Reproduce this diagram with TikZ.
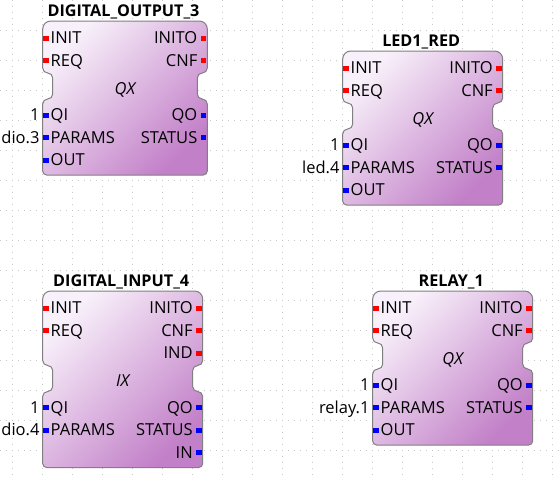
\documentclass[tikz,border=0pt]{standalone}
\usepackage{fontspec}
\setmainfont{Open Sans}
\usetikzlibrary{calc}

\definecolor{fbtop}{RGB}{248,240,250}
\definecolor{fbbot}{RGB}{194,128,200}
\definecolor{fbline}{RGB}{128,128,128}
\definecolor{griddot}{RGB}{200,200,200}

\tikzset{
  fbbody/.style={draw=fbline,line width=1pt,top color=fbtop,bottom color=fbbot,shading angle=45},
  lbl/.style={inner sep=0pt,text height=11.8pt,text depth=0pt,font=\fontsize{16.5}{19}\selectfont},
  ttl/.style={lbl,font=\fontsize{16.2}{19}\selectfont\bfseries},
  fbtype/.style={lbl,font=\fontsize{16.5}{19}\selectfont\itshape},
  port/.style={inner sep=0pt,minimum width=5.4pt,minimum height=5pt,fill=#1},
  gridline/.style={griddot,line width=1pt,dash pattern=on 1pt off 5pt}
}

\begin{document}
\begin{tikzpicture}[x=1pt,y=-1pt]
  \fill[white] (0,0) rectangle (560,480);
  \useasboundingbox (0,0) rectangle (560,480);

  % dotted grid
  \foreach \gx in {12,42,...,552}{
    \draw[gridline] (\gx,0) -- (\gx,480);
  }
  \foreach \gy in {30,60,...,450}{
    \draw[gridline] (0,\gy) -- (560,\gy);
  }

  % block bodies, names and types
  \foreach \nm/\bx/\by/\bw/\bh/\ttl/\kind in {
      do3/42.7/21/164.6/52/DIGITAL\_OUTPUT\_3/QX,
      led/342.7/51/160/52/LED1\_RED/QX,
      di4/42.7/291/160/74.5/DIGITAL\_INPUT\_4/IX,
      rel/372.7/291/160/52/RELAY\_1/QX}{
    \begin{scope}[shift={(\bx,\by)}]
      \shade[fbbody] (0,30) [rounded corners=8]
        -- (0,0) -- (\bw,0) -- (\bw,20) [rounded corners=5]
        -- (\bw,\bh) -- ({\bw-10},\bh) -- ({\bw-10},{\bh+26}) -- (\bw,{\bh+26})
        [rounded corners=4] -- (\bw,{\bh+102}) -- (0,{\bh+102})
        [rounded corners=5] -- (0,{\bh+26}) -- (10,{\bh+26}) -- (10,\bh) -- (0,\bh) -- cycle;
      \node[ttl] (\nm-title) at ({\bw/2-1.5},-10) {\ttl};
      \node[fbtype] (\nm-type) at ({\bw/2},{\bh+15.5}) {\kind};
    \end{scope}
  }

  % DIGITAL_OUTPUT_3
  \begin{scope}[shift={(42.7,21)}]
    \foreach \py/\lab/\c [count=\i] in {17/INIT/red,39.5/REQ/red,94/QI/blue,116.5/PARAMS/blue,139/OUT/blue}{
      \node[port=\c] (do3-in\i) at (3.2,\py) {};
      \node[lbl,anchor=west] (do3-inl\i) at (7.8,\py) {\lab};
    }
    \foreach \py/\lab/\c [count=\i] in {17/INITO/red,39.5/CNF/red,94/QO/blue,116.5/STATUS/blue}{
      \node[port=\c] (do3-out\i) at (160.9,\py) {};
      \node[lbl,anchor=east] (do3-outl\i) at (154.8,\py) {\lab};
    }
    \node[lbl,anchor=east] (do3-qi) at (-3,94) {1};
    \node[lbl,anchor=east] (do3-par) at (-3,116.5) {dio.3};
  \end{scope}

  % LED1_RED
  \begin{scope}[shift={(342.7,51)}]
    \foreach \py/\lab/\c [count=\i] in {17/INIT/red,39.5/REQ/red,94/QI/blue,116.5/PARAMS/blue,139/OUT/blue}{
      \node[port=\c] (led-in\i) at (3.2,\py) {};
      \node[lbl,anchor=west] (led-inl\i) at (7.8,\py) {\lab};
    }
    \foreach \py/\lab/\c [count=\i] in {17/INITO/red,39.5/CNF/red,94/QO/blue,116.5/STATUS/blue}{
      \node[port=\c] (led-out\i) at (156.3,\py) {};
      \node[lbl,anchor=east] (led-outl\i) at (150.2,\py) {\lab};
    }
    \node[lbl,anchor=east] (led-qi) at (-3,94) {1};
    \node[lbl,anchor=east] (led-par) at (-3,116.5) {led.4};
  \end{scope}

  % DIGITAL_INPUT_4
  \begin{scope}[shift={(42.7,291)}]
    \foreach \py/\lab/\c [count=\i] in {17/INIT/red,39.5/REQ/red,116.5/QI/blue,139/PARAMS/blue}{
      \node[port=\c] (di4-in\i) at (3.2,\py) {};
      \node[lbl,anchor=west] (di4-inl\i) at (7.8,\py) {\lab};
    }
    \foreach \py/\lab/\c [count=\i] in {17/INITO/red,39.5/CNF/red,62/IND/red,116.5/QO/blue,139/STATUS/blue,161.5/IN/blue}{
      \node[port=\c] (di4-out\i) at (156.3,\py) {};
      \node[lbl,anchor=east] (di4-outl\i) at (150.2,\py) {\lab};
    }
    \node[lbl,anchor=east] (di4-qi) at (-3,116.5) {1};
    \node[lbl,anchor=east] (di4-par) at (-3,139) {dio.4};
  \end{scope}

  % RELAY_1
  \begin{scope}[shift={(372.7,291)}]
    \foreach \py/\lab/\c [count=\i] in {17/INIT/red,39.5/REQ/red,94/QI/blue,116.5/PARAMS/blue,139/OUT/blue}{
      \node[port=\c] (rel-in\i) at (3.2,\py) {};
      \node[lbl,anchor=west] (rel-inl\i) at (7.8,\py) {\lab};
    }
    \foreach \py/\lab/\c [count=\i] in {17/INITO/red,39.5/CNF/red,94/QO/blue,116.5/STATUS/blue}{
      \node[port=\c] (rel-out\i) at (156.3,\py) {};
      \node[lbl,anchor=east] (rel-outl\i) at (150.2,\py) {\lab};
    }
    \node[lbl,anchor=east] (rel-qi) at (-3,94) {1};
    \node[lbl,anchor=east] (rel-par) at (-3,116.5) {relay.1};
  \end{scope}
\end{tikzpicture}
\end{document}
